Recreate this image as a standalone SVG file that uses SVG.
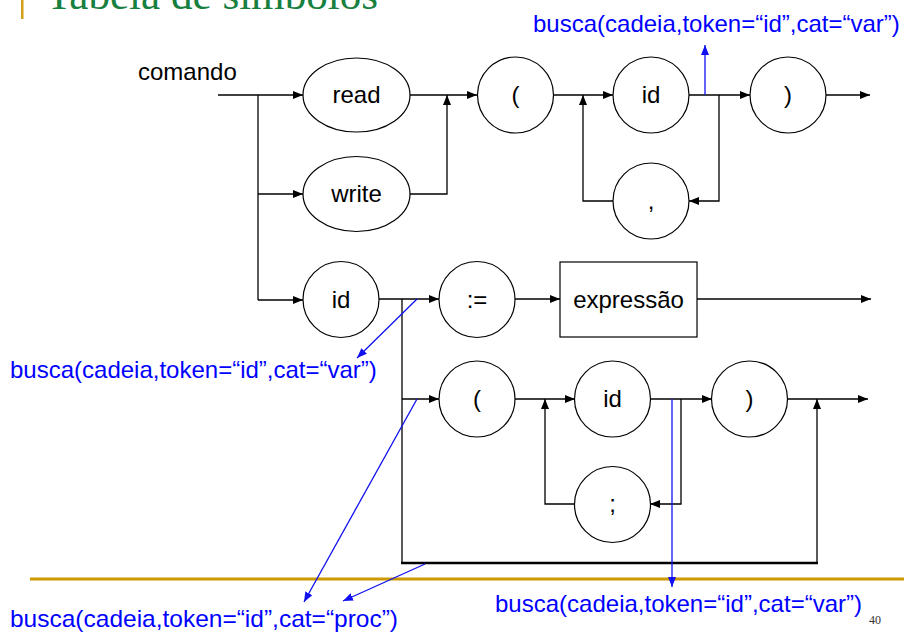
<svg xmlns="http://www.w3.org/2000/svg" width="904" height="635" viewBox="0 0 904 635">
  <style>
    .node { fill: #ffffff; stroke: #000000; stroke-width: 1.2; }
    .lbl { font-family: "Liberation Sans", Arial, sans-serif; font-size: 24px; fill: #000000; text-anchor: middle; }
    .wire { fill: none; stroke: #000000; stroke-width: 1.3; }
    .wire-heavy { fill: none; stroke: #000000; stroke-width: 2.6; }
    .act { fill: none; stroke: #1010f0; stroke-width: 1.3; }
    .note { font-family: "Liberation Sans", Arial, sans-serif; font-size: 24px; fill: #0000ff; }
  </style>
  <defs>
    <marker id="arrow" viewBox="0 0 10 8" refX="10" refY="4" markerWidth="10" markerHeight="8" markerUnits="userSpaceOnUse" orient="auto">
      <path d="M0,0 L10,4 L0,8 Z" fill="#000000"/>
    </marker>
    <marker id="arrow-blue" viewBox="0 0 10 8" refX="10" refY="4" markerWidth="10" markerHeight="8" markerUnits="userSpaceOnUse" orient="auto">
      <path d="M0,0 L10,4 L0,8 Z" fill="#1010f0"/>
    </marker>
  </defs>

  <rect width="904" height="635" fill="#ffffff"/>

  <!-- slide header (title runs off the top edge) -->
  <rect x="21" y="0" width="2.5" height="19" fill="#d4a017"/>
  <text x="46" y="9" font-family="'Liberation Serif', 'Times New Roman', serif" font-size="43" fill="#17803f" textLength="332" lengthAdjust="spacingAndGlyphs">Tabela de símbolos</text>
  <rect x="30" y="577.5" width="874" height="3" fill="#cc9900"/>
  <text x="869" y="624" font-family="'Liberation Serif', 'Times New Roman', serif" font-size="12" fill="#333333">40</text>

  <text x="138" y="80" font-family="'Liberation Sans', Arial, sans-serif" font-size="24" fill="#000000">comando</text>

  <!-- connectors -->
  <g id="connectors">
    <path class="wire" d="M218,95 H303" marker-end="url(#arrow)"/>
    <path class="wire" d="M258,95 V300"/>
    <path class="wire" d="M258,194 H303" marker-end="url(#arrow)"/>
    <path class="wire" d="M258,300 H303" marker-end="url(#arrow)"/>
    <path class="wire" d="M410,95 H477" marker-end="url(#arrow)"/>
    <path class="wire" d="M410,194 H447 V95" marker-end="url(#arrow)"/>
    <path class="wire" d="M554,95 H613" marker-end="url(#arrow)"/>
    <path class="wire" d="M689,95 H750" marker-end="url(#arrow)"/>
    <path class="wire" d="M826,95 H870" marker-end="url(#arrow)"/>
    <path class="wire" d="M719,95 V201 H689" marker-end="url(#arrow)"/>
    <path class="wire" d="M613,201 H583 V95" marker-end="url(#arrow)"/>

    <path class="wire" d="M379,299 H439" marker-end="url(#arrow)"/>
    <path class="wire" d="M515,299 H560" marker-end="url(#arrow)"/>
    <path class="wire" d="M697,299 H871" marker-end="url(#arrow)"/>
    <path class="wire" d="M402,299 V563"/>
    <path class="wire" d="M402,399 H439" marker-end="url(#arrow)"/>
    <path class="wire-heavy" d="M401,563 H818"/>
    <path class="wire" d="M817,563 V399" marker-end="url(#arrow)"/>
    <path class="wire" d="M515,399 H575" marker-end="url(#arrow)"/>
    <path class="wire" d="M650,399 H712" marker-end="url(#arrow)"/>
    <path class="wire" d="M787,399 H868" marker-end="url(#arrow)"/>
    <path class="wire" d="M681,399 V504 H650" marker-end="url(#arrow)"/>
    <path class="wire" d="M575,504 H545 V399" marker-end="url(#arrow)"/>

    <!-- symbol-table lookups -->
    <path class="act" d="M705,95 V45" marker-end="url(#arrow-blue)"/>
    <path class="act" d="M417,299 L357,358" marker-end="url(#arrow-blue)"/>
    <path class="act" d="M417,399 L304,602" marker-end="url(#arrow-blue)"/>
    <path class="act" d="M425,564 L343,601" marker-end="url(#arrow-blue)"/>
    <path class="act" d="M672,399 V587" marker-end="url(#arrow-blue)"/>
  </g>

  <!-- nodes -->
  <g id="n-read">
    <ellipse class="node" cx="356.5" cy="95" rx="53.5" ry="37"/>
    <text class="lbl" x="356.5" y="103">read</text>
  </g>
  <g id="n-write">
    <ellipse class="node" cx="356.5" cy="194" rx="53.5" ry="37.5"/>
    <text class="lbl" x="356.5" y="202">write</text>
  </g>
  <g id="n-lparen1">
    <circle class="node" cx="515.5" cy="95" r="38"/>
    <text class="lbl" x="515.5" y="103">(</text>
  </g>
  <g id="n-id1">
    <circle class="node" cx="651" cy="95" r="38"/>
    <text class="lbl" x="651" y="103">id</text>
  </g>
  <g id="n-rparen1">
    <circle class="node" cx="788" cy="95" r="38"/>
    <text class="lbl" x="788" y="103">)</text>
  </g>
  <g id="n-comma">
    <circle class="node" cx="651" cy="201" r="38"/>
    <text class="lbl" x="651" y="209">,</text>
  </g>
  <g id="n-id2">
    <circle class="node" cx="341" cy="299.5" r="38"/>
    <text class="lbl" x="341" y="308">id</text>
  </g>
  <g id="n-assign">
    <circle class="node" cx="477" cy="299.5" r="38"/>
    <text class="lbl" x="477" y="308">:=</text>
  </g>
  <g id="n-expr">
    <rect class="node" x="560" y="262" width="137" height="75"/>
    <text class="lbl" x="628.5" y="308">expressão</text>
  </g>
  <g id="n-lparen2">
    <circle class="node" cx="477" cy="399" r="38"/>
    <text class="lbl" x="477" y="407">(</text>
  </g>
  <g id="n-id3">
    <circle class="node" cx="612.5" cy="399" r="38"/>
    <text class="lbl" x="612.5" y="407">id</text>
  </g>
  <g id="n-rparen2">
    <circle class="node" cx="749.5" cy="399" r="38"/>
    <text class="lbl" x="749.5" y="407">)</text>
  </g>
  <g id="n-semicolon">
    <circle class="node" cx="612.5" cy="504.5" r="38"/>
    <text class="lbl" x="612.5" y="512">;</text>
  </g>

  <!-- lookup annotations -->
  <text class="note" x="533" y="32">busca(cadeia,token=“id”,cat=“var”)</text>
  <text class="note" x="10" y="378">busca(cadeia,token=“id”,cat=“var”)</text>
  <text class="note" x="10" y="627" textLength="388" lengthAdjust="spacingAndGlyphs">busca(cadeia,token=“id”,cat=“proc”)</text>
  <text class="note" x="495" y="612" textLength="367" lengthAdjust="spacingAndGlyphs">busca(cadeia,token=“id”,cat=“var”)</text>
</svg>
